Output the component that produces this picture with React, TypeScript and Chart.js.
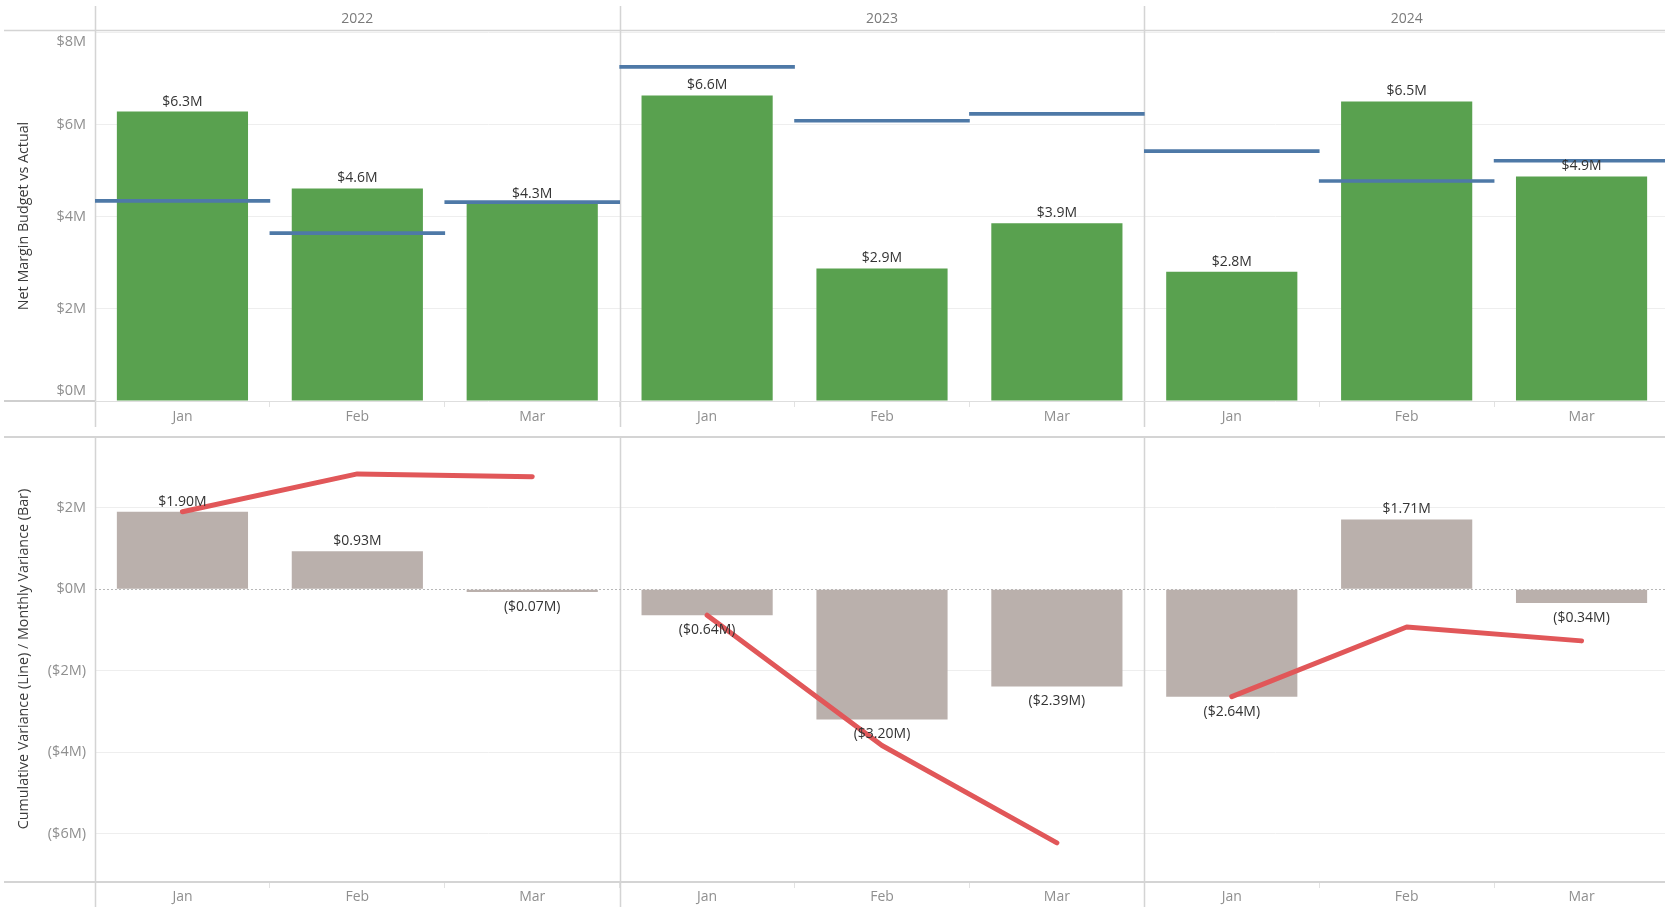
import React, { useEffect, useRef } from 'react';
import { Chart, registerables } from 'chart.js';
Chart.register(...registerables);

const years = ['2022', '2023', '2024'];
const months = ['Jan', 'Feb', 'Mar'];
const actual = [6.29, 4.62, 4.29, 6.64, 2.88, 3.86, 2.81, 6.51, 4.88];
const budget = [4.35, 3.65, 4.32, 7.26, 6.09, 6.24, 5.43, 4.78, 5.22];
const monthlyVariance = [1.9, 0.93, -0.07, -0.64, -3.2, -2.39, -2.64, 1.71, -0.34];
const cumulativeVariance = [1.9, 2.83, 2.76, -0.64, -3.84, -6.23, -2.64, -0.93, -1.27];
const topTicks = [0, 2, 4, 6, 8];
const bottomTicks = [-6, -4, -2, 0, 2];
const topRange = [0, 8.04];
const bottomRange = [-7.19, 3.76];

const categories = years.flatMap(() => months);

const FONT = "'Open Sans', 'Noto Sans', sans-serif";
const LINE = '#d4d4d4';
const TICK_COLOR = '#8f8f8f';
const LABEL_COLOR = '#333333';
const CANVAS_W = 1669;

const fmtM = (v: number) => (v >= 0 ? `$${v}M` : `($${-v}M)`);

function groupGeometry(chart: any) {
  const x = chart.scales.x;
  const half = (x.getPixelForValue(1) - x.getPixelForValue(0)) / 2;
  return years.map((_, i) => ({
    left: x.getPixelForValue(3 * i) - half,
    center: x.getPixelForValue(3 * i + 1),
  }));
}

const topFrame = {
  id: 'topFrame',
  beforeDatasetsDraw(chart: any) {
    const { ctx, width, scales } = chart;
    const groups = groupGeometry(chart);
    ctx.save();
    ctx.strokeStyle = LINE;
    ctx.lineWidth = 1.5;
    groups.forEach((g) => {
      ctx.beginPath();
      ctx.moveTo(Math.round(g.left) + 0.5, 6);
      ctx.lineTo(Math.round(g.left) + 0.5, 427);
      ctx.stroke();
    });
    ctx.beginPath();
    ctx.moveTo(4, 30.5);
    ctx.lineTo(width, 30.5);
    ctx.stroke();
    const y0 = scales.y.getPixelForValue(0);
    ctx.lineWidth = 2;
    ctx.strokeStyle = '#cfcfcf';
    ctx.beginPath();
    ctx.moveTo(4, y0);
    ctx.lineTo(chart.chartArea.left, y0);
    ctx.stroke();
    ctx.lineWidth = 1;
    ctx.strokeStyle = '#dedede';
    ctx.beginPath();
    ctx.moveTo(chart.chartArea.left, y0 + 0.5);
    ctx.lineTo(width, y0 + 0.5);
    ctx.stroke();
    ctx.fillStyle = '#7a7a7a';
    ctx.font = `14px ${FONT}`;
    ctx.textAlign = 'center';
    ctx.textBaseline = 'middle';
    groups.forEach((g, i) => ctx.fillText(years[i], g.center, 19));
    ctx.restore();
  },
};

const bottomFrame = {
  id: 'bottomFrame',
  beforeDatasetsDraw(chart: any) {
    const { ctx, width, height, scales, chartArea } = chart;
    const groups = groupGeometry(chart);
    ctx.save();
    ctx.strokeStyle = LINE;
    ctx.lineWidth = 1.5;
    groups.forEach((g) => {
      ctx.beginPath();
      ctx.moveTo(Math.round(g.left) + 0.5, 0);
      ctx.lineTo(Math.round(g.left) + 0.5, height);
      ctx.stroke();
    });
    ctx.lineWidth = 2;
    ctx.beginPath();
    ctx.moveTo(4, 1);
    ctx.lineTo(width, 1);
    ctx.stroke();
    ctx.beginPath();
    ctx.moveTo(4, chartArea.bottom);
    ctx.lineTo(width, chartArea.bottom);
    ctx.stroke();
    const y0 = Math.round(scales.y.getPixelForValue(0)) + 0.5;
    ctx.lineWidth = 1;
    ctx.strokeStyle = '#b8b8b8';
    ctx.setLineDash([2, 2]);
    ctx.beginPath();
    ctx.moveTo(chartArea.left, y0);
    ctx.lineTo(width, y0);
    ctx.stroke();
    ctx.restore();
  },
};

const yLabels = {
  id: 'yLabels',
  afterDraw(chart: any) {
    const { ctx, chartArea, scales } = chart;
    const y = scales.y;
    ctx.save();
    ctx.fillStyle = TICK_COLOR;
    ctx.font = `14.5px ${FONT}`;
    ctx.textAlign = 'right';
    ctx.textBaseline = 'middle';
    y.ticks.forEach((t: any) => {
      let py = y.getPixelForValue(t.value);
      py = Math.max(chartArea.top + 11, Math.min(chartArea.bottom - 10, py));
      ctx.fillText(fmtM(t.value), chartArea.left - 9, py);
    });
    ctx.restore();
  },
};

function dataLabels(datasetIndex: number, fmt: (v: number) => string) {
  return {
    id: 'dataLabels' + datasetIndex,
    afterDatasetsDraw(chart: any) {
      const { ctx } = chart;
      const meta = chart.getDatasetMeta(datasetIndex);
      const values = chart.data.datasets[datasetIndex].data as number[];
      ctx.save();
      ctx.fillStyle = LABEL_COLOR;
      ctx.font = `14px ${FONT}`;
      ctx.textAlign = 'center';
      ctx.textBaseline = 'middle';
      meta.data.forEach((el: any, i: number) => {
        const v = values[i];
        const py = v >= 0 ? el.y - 10 : el.y + 15;
        ctx.fillText(fmt(v), el.x, py);
      });
      ctx.restore();
    },
  };
}

const xScale = (height: number, pad: number) => ({
  type: 'category' as const,
  offset: true,
  grid: {
    display: true,
    drawOnChartArea: false,
    drawTicks: true,
    tickLength: 6,
    color: '#e2e2e2',
    offset: true,
  },
  border: { display: false },
  ticks: {
    color: TICK_COLOR,
    font: { family: FONT, size: 14 },
    padding: pad,
    maxRotation: 0,
    autoSkip: false,
  },
  afterFit(s: any) {
    s.height = height;
  },
});

const yScale = (range: number[], ticks: number[], title: string) => ({
  min: range[0],
  max: range[1],
  afterBuildTicks(s: any) {
    s.ticks = ticks.map((v) => ({ value: v }));
  },
  ticks: { display: false },
  grid: {
    drawTicks: false,
    color: (c: any) => (c.tick && c.tick.value === 0 ? 'rgba(0,0,0,0)' : '#eeeeee'),
    lineWidth: 1,
  },
  border: { display: false },
  title: {
    display: true,
    text: title,
    color: '#3a3a3a',
    font: { family: FONT, size: 14.3 },
    padding: { top: 15, bottom: 0 },
  },
  afterFit(s: any) {
    s.width = 95;
  },
});

export default function App() {
  const topRef = useRef<HTMLCanvasElement>(null);
  const botRef = useRef<HTMLCanvasElement>(null);

  useEffect(() => {
    Chart.defaults.font.family = FONT;
    const top = new Chart(topRef.current as HTMLCanvasElement, {
      type: 'bar',
      data: {
        labels: categories,
        datasets: [
          {
            label: 'Budget',
            data: budget.map((b) => [b - 0.033, b + 0.033]) as any,
            backgroundColor: '#4E79A7',
            barPercentage: 1,
            categoryPercentage: 1,
            grouped: false,
            order: 0,
          } as any,
          {
            label: 'Actual',
            data: actual,
            backgroundColor: '#59A14F',
            barPercentage: 0.75,
            categoryPercentage: 1,
            grouped: false,
            order: 1,
          } as any,
        ],
      },
      options: {
        responsive: false,
        animation: false,
        layout: { padding: { top: 31, right: 0, left: 0, bottom: 0 } },
        plugins: { legend: { display: false }, tooltip: { enabled: false } },
        scales: {
          x: xScale(35, 2) as any,
          y: yScale(topRange, topTicks, 'Net Margin Budget vs Actual') as any,
        },
      },
      plugins: [topFrame, yLabels, dataLabels(1, (v) => `$${v.toFixed(1)}M`)],
    });

    const lineSets = years.map((y, yi) => ({
      type: 'line' as const,
      label: `Cumulative ${y}`,
      data: cumulativeVariance.map((v, i) => (Math.floor(i / 3) === yi ? v : null)),
      borderColor: '#E15759',
      borderWidth: 5,
      borderCapStyle: 'round' as const,
      borderJoinStyle: 'round' as const,
      pointRadius: 0,
      spanGaps: false,
      tension: 0,
      order: 0,
    }));

    const bot = new Chart(botRef.current as HTMLCanvasElement, {
      type: 'bar',
      data: {
        labels: categories,
        datasets: [
          ...lineSets,
          {
            type: 'bar',
            label: 'Monthly Variance',
            data: monthlyVariance,
            backgroundColor: '#BAB0AC',
            barPercentage: 0.75,
            categoryPercentage: 1,
            order: 1,
          },
        ] as any,
      },
      options: {
        responsive: false,
        animation: false,
        layout: { padding: { top: 0, right: 0, left: 0, bottom: 0 } },
        plugins: { legend: { display: false }, tooltip: { enabled: false } },
        scales: {
          x: xScale(25, 1) as any,
          y: yScale(bottomRange, bottomTicks, 'Cumulative Variance (Line) / Monthly Variance (Bar)') as any,
        },
      },
      plugins: [
        bottomFrame,
        yLabels,
        dataLabels(3, (v) => (v >= 0 ? `$${v.toFixed(2)}M` : `($${(-v).toFixed(2)}M)`)),
      ],
    });

    return () => {
      top.destroy();
      bot.destroy();
    };
  }, []);

  return (
    <div
      style={{
        position: 'fixed',
        left: 0,
        top: 0,
        width: 1665,
        height: 907,
        overflow: 'hidden',
        background: '#ffffff',
      }}
    >
      <canvas ref={topRef} width={CANVAS_W} height={436} style={{ position: 'absolute', left: 0, top: 0 }} />
      <canvas ref={botRef} width={CANVAS_W} height={471} style={{ position: 'absolute', left: 0, top: 436 }} />
    </div>
  );
}
